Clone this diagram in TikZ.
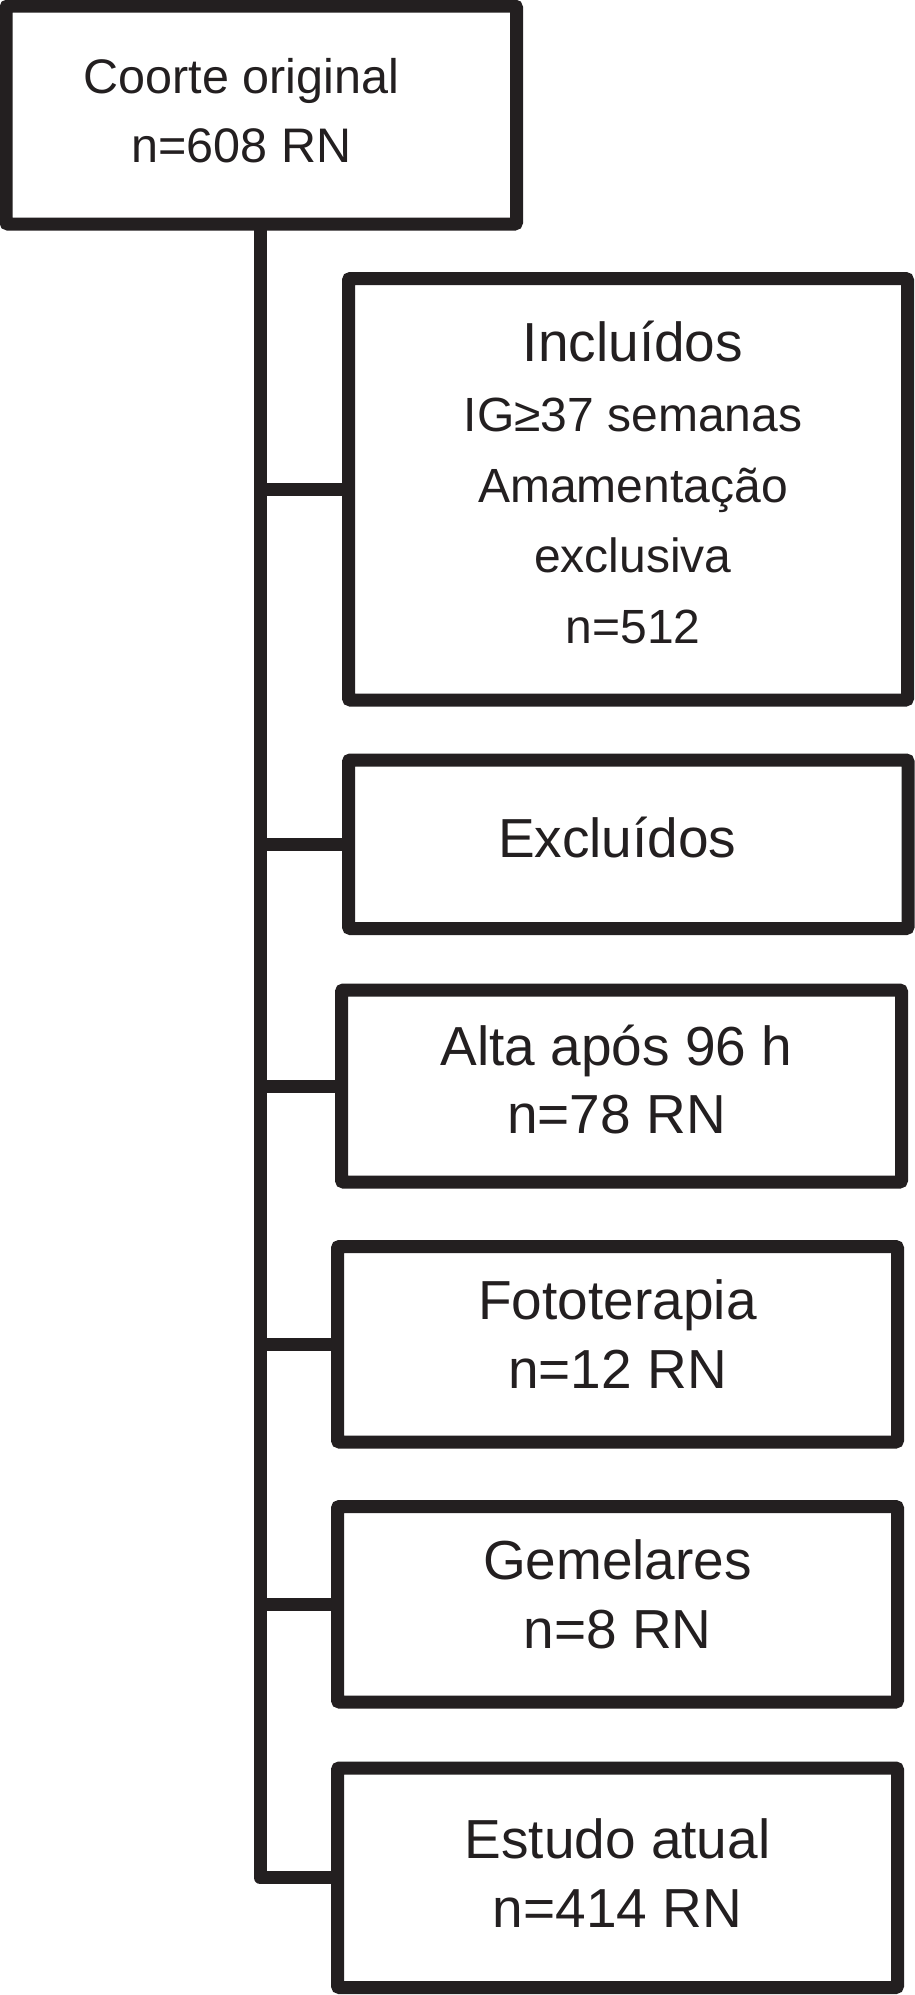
\documentclass[tikz,border=0pt]{standalone}
\usepackage{fontspec}
\setmainfont{Liberation Sans}
\definecolor{ink}{RGB}{35,31,32}
\newcommand\ftext[4]{\kern#1\raisebox{#3}[\height][\depth]{\begin{tabular}{@{}c@{}}#4\end{tabular}}\kern#2}
\tikzset{
  flowbox/.style={draw=ink, text=ink, line width=13pt, rectangle, rounded corners=2pt,
    inner sep=0pt, outer sep=0pt, fill=white},
  link/.style={draw=ink, line width=13pt, line join=round}
}
\begin{document}
\begin{tikzpicture}[x=1pt,y=-1pt]
\useasboundingbox (0,0) rectangle (915,1995);
\node[flowbox, minimum width=510.5pt, minimum height=218pt, font=\fontsize{48.5}{69}\selectfont]
  (b1) at (261.25,115) {\ftext{0pt}{40pt}{1pt}{Coorte original\\n=608 RN}};
\node[flowbox, minimum width=559pt, minimum height=421.5pt, font=\fontsize{48}{70.5}\selectfont]
  (incl) at (628,489.25) {\ftext{10pt}{0pt}{1pt}{{\fontsize{55}{70.5}\selectfont Incluídos}\\IG≥37 semanas\\Amamentação\\exclusiva\\n=512}};
\node[flowbox, minimum width=559.5pt, minimum height=168.5pt, font=\fontsize{55}{68}\selectfont]
  (excl) at (628.25,844.25) {\ftext{0pt}{22pt}{0pt}{Excluídos}};
\node[flowbox, minimum width=560pt, minimum height=192pt, font=\fontsize{55}{68}\selectfont]
  (alta) at (621.5,1086) {\ftext{0pt}{10pt}{0pt}{Alta após 96 h\\n=78 RN}};
\node[flowbox, minimum width=560pt, minimum height=195.5pt, font=\fontsize{55}{69}\selectfont]
  (foto) at (617.5,1344.25) {\ftext{0pt}{0pt}{4pt}{Fototerapia\\n=12 RN}};
\node[flowbox, minimum width=560pt, minimum height=195.5pt, font=\fontsize{55}{69}\selectfont]
  (gem) at (617.5,1604.25) {\ftext{0pt}{0pt}{4pt}{Gemelares\\n=8 RN}};
\node[flowbox, minimum width=560pt, minimum height=219.5pt, font=\fontsize{55}{69}\selectfont]
  (est) at (617.5,1877.75) {\ftext{0pt}{0pt}{-1pt}{Estudo atual\\n=414 RN}};
\coordinate (tk) at (260,0);
\draw[link] (tk |- b1.south) -- (tk |- est.west) -- (est.west);
\draw[link] (tk |- incl.west) -- (incl.west);
\draw[link] (tk |- excl.west) -- (excl.west);
\draw[link] (tk |- alta.west) -- (alta.west);
\draw[link] (tk |- foto.west) -- (foto.west);
\draw[link] (tk |- gem.west) -- (gem.west);
\end{tikzpicture}
\end{document}
